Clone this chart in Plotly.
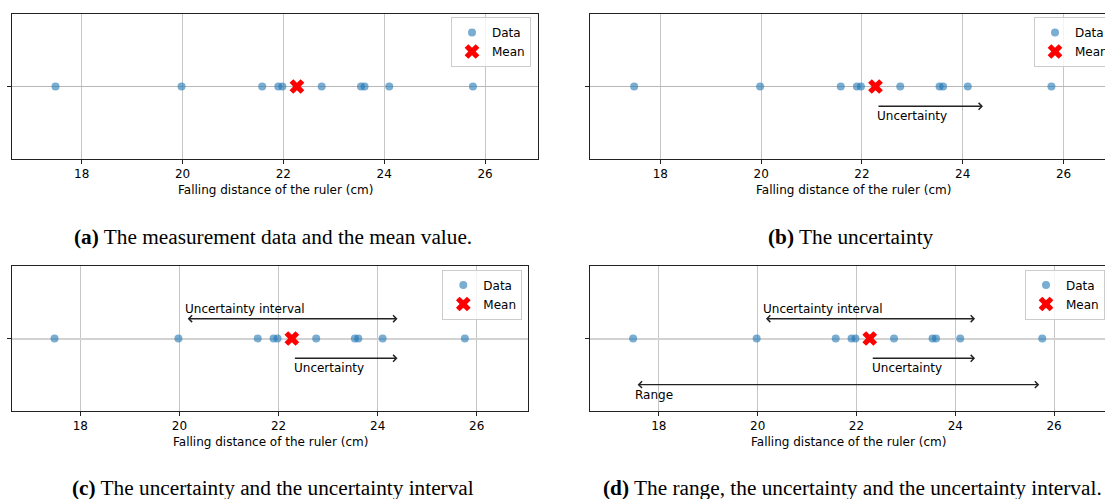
import numpy as np
import plotly.graph_objects as go

# Measured falling distances of the ruler (cm)
falling_distance_cm = [17.48, 19.98, 21.58, 21.90, 21.98, 22.76, 23.54, 23.61, 24.10, 25.76]
x_tick_values = [18, 20, 22, 24, 26]
axis_title = "Falling distance of the ruler (cm)"
panel_captions = [
    "<b>(a)</b> The measurement data and the mean value.",
    "<b>(b)</b> The uncertainty",
    "<b>(c)</b> The uncertainty and the uncertainty interval",
    "<b>(d)</b> The range, the uncertainty and the uncertainty interval.",
]
legend_labels = ["Data", "Mean"]
arrow_labels = {"uncertainty": "Uncertainty", "interval": "Uncertainty interval", "range": "Range"}

mean_value = float(np.mean(falling_distance_cm))
uncertainty = float(np.std(falling_distance_cm))
data_min = min(falling_distance_cm)
data_max = max(falling_distance_cm)

W, H = 1105, 499
SANS = "DejaVu Sans"
SERIF = "Liberation Serif"
TEXT_SIZE = 12


def px_x(p):
    return p / W


def px_y(p):
    return 1 - p / H


# Layout of the four panels (pixel boxes of the plotting areas)
panels = [
    dict(box=(12, 537.7, 14, 159), xrange=[16.617, 27.045], legend=dict(x=px_x(531), xanchor="right", y=px_y(17)),
         right_border=True, grid=("#b8b8b8", 1), title_x=275, title_y=189.5, cap=(273, 237),
         arrows=[]),
    dict(box=(590.3, 1105, 14, 159), xrange=[16.61, 26.823], legend=dict(x=px_x(1034), xanchor="left", y=px_y(17)),
         right_border=False, grid=("#b8b8b8", 1), title_x=853, title_y=189.5, cap=(851, 237),
         arrows=["uncertainty"]),
    dict(box=(12, 528.3, 266, 411), xrange=[16.622, 27.04], legend=dict(x=px_x(522.3), xanchor="right", y=px_y(269.5)),
         right_border=True, grid=("#d2d2d2", 2), title_x=270, title_y=441.7, cap=(273, 487.5),
         arrows=["interval", "uncertainty"]),
    dict(box=(590, 1105, 266, 411), xrange=[16.607, 27.03], legend=dict(x=px_x(1025), xanchor="left", y=px_y(269.5)),
         right_border=False, grid=("#d2d2d2", 2), title_x=848, title_y=441.7, cap=(852, 487.5),
         arrows=["interval", "uncertainty", "range"]),
]

fig = go.Figure()
annotations = []
layout_updates = {}

for i, p in enumerate(panels):
    n = "" if i == 0 else str(i + 1)
    xa, ya = "x" + n, "y" + n
    leg = "legend" + n
    x0, x1, y0, y1 = p["box"]

    fig.add_trace(go.Scatter(
        x=falling_distance_cm, y=[0] * len(falling_distance_cm), mode="markers",
        name=legend_labels[0], xaxis=xa, yaxis=ya, legend=leg,
        marker=dict(symbol="circle", size=8, color="#1f77b4", opacity=0.6, line=dict(width=0)),
        hoverinfo="x",
    ))
    fig.add_trace(go.Scatter(
        x=[mean_value], y=[0], mode="markers",
        name=legend_labels[1], xaxis=xa, yaxis=ya, legend=leg,
        marker=dict(symbol="x", size=13, color="red", line=dict(width=0)),
        hoverinfo="x",
    ))

    layout_updates["xaxis" + n] = dict(
        domain=[px_x(x0), px_x(x1)], range=p["xrange"], anchor=ya,
        tickvals=x_tick_values, ticks="outside", ticklen=4, tickwidth=1, tickcolor="#222",
        showgrid=True, gridcolor="#c6c6c6", gridwidth=1,
        showline=True, linecolor="#222", linewidth=1, mirror=True,
        zeroline=False, tickfont=dict(family=SANS, size=TEXT_SIZE, color="#000"),
        fixedrange=True,
    )
    layout_updates["yaxis" + n] = dict(
        domain=[px_y(y1), px_y(y0)], range=[-1.1, 1.1], anchor=xa,
        tickvals=[0], showticklabels=False, ticks="outside", ticklen=4, tickwidth=1, tickcolor="#222",
        showgrid=True, gridcolor=p["grid"][0], gridwidth=p["grid"][1],
        showline=True, linecolor="#222", linewidth=1, mirror=p["right_border"],
        zeroline=False, fixedrange=True,
    )
    layout_updates[leg] = dict(
        x=p["legend"]["x"], xanchor=p["legend"]["xanchor"], y=p["legend"]["y"], yanchor="top",
        bgcolor="rgba(255,255,255,0.8)", bordercolor="#cccccc", borderwidth=1,
        font=dict(family=SANS, size=TEXT_SIZE, color="#000"),
        tracegroupgap=0, itemwidth=30,
    )

    # Axis title and caption
    annotations.append(dict(
        text=axis_title, xref="paper", yref="paper", x=px_x(p["title_x"]), y=px_y(p["title_y"]),
        xanchor="center", yanchor="middle", showarrow=False,
        font=dict(family=SANS, size=TEXT_SIZE, color="#000"),
    ))
    annotations.append(dict(
        text=panel_captions[i], xref="paper", yref="paper", x=px_x(p["cap"][0]), y=px_y(p["cap"][1]),
        xanchor="center", yanchor="middle", showarrow=False, borderpad=0,
        font=dict(family=SERIF, size=21.3, color="#000"),
    ))

    # Arrows with their labels
    for kind in p["arrows"]:
        if kind == "uncertainty":
            start, end, yv, ty, both = mean_value, mean_value + uncertainty, -0.3, -0.45, False
        elif kind == "interval":
            start, end, yv, ty, both = mean_value - uncertainty, mean_value + uncertainty, 0.3, 0.45, True
        else:
            start, end, yv, ty, both = data_min, data_max, -0.7, -0.85, True
        arrow = dict(
            text="", xref=xa, yref=ya, axref=xa, ayref=ya,
            x=end, y=yv, ax=start, ay=yv, showarrow=True,
            arrowhead=4, arrowsize=1, arrowwidth=1.3, arrowcolor="#222",
            standoff=3, startstandoff=3 if both else 1.5,
        )
        if both:
            arrow.update(arrowside="end+start", startarrowhead=4, startarrowsize=1)
        annotations.append(arrow)
        annotations.append(dict(
            text=arrow_labels[kind], xref=xa, yref=ya, x=start, y=ty,
            xanchor="left", yanchor="middle", showarrow=False,
            font=dict(family=SANS, size=TEXT_SIZE, color="#000"),
        ))

fig.update_layout(
    width=W, height=H, margin=dict(l=0, r=0, t=0, b=0, autoexpand=False),
    paper_bgcolor="white", plot_bgcolor="white",
    annotations=annotations, showlegend=True,
    **layout_updates,
)

fig.write_html("out.html", config={"displayModeBar": False})
